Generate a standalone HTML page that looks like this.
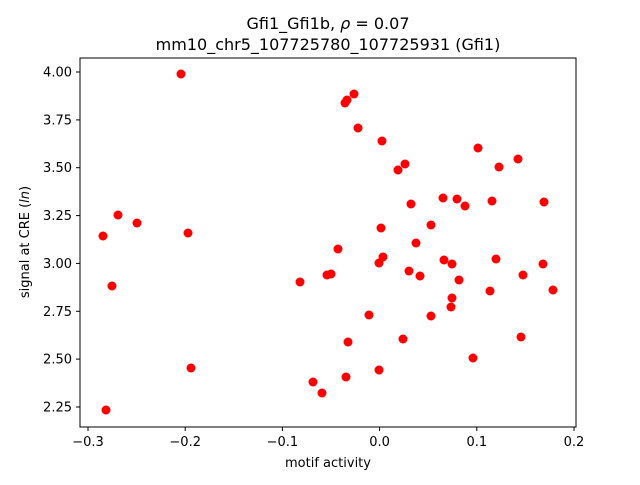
<!DOCTYPE html>
<html><head><meta charset="utf-8"><style>body{margin:0;background:#fff}</style></head><body>
<svg width="640" height="480" xmlns="http://www.w3.org/2000/svg" font-family="'DejaVu Sans', 'Liberation Sans', sans-serif">
<rect width="640" height="480" fill="#fff"/>
<text x="328" y="29" font-size="16" text-anchor="middle">Gfi1_Gfi1b, <tspan font-style="italic">ρ</tspan> = 0.07</text>
<text x="328" y="50" font-size="16" text-anchor="middle">mm10_chr5_107725780_107725931 (Gfi1)</text>
<g fill="#ff0000">
<circle cx="181" cy="74" r="4.5"/><circle cx="354" cy="94" r="4.5"/><circle cx="347" cy="100" r="4.5"/><circle cx="345" cy="103" r="4.5"/><circle cx="358" cy="128" r="4.5"/><circle cx="382" cy="141" r="4.5"/><circle cx="405" cy="164" r="4.5"/><circle cx="398" cy="170" r="4.5"/><circle cx="478" cy="148" r="4.5"/><circle cx="518" cy="159" r="4.5"/><circle cx="499" cy="167" r="4.5"/><circle cx="103" cy="236" r="4.5"/><circle cx="118" cy="215" r="4.5"/><circle cx="137" cy="223" r="4.5"/><circle cx="188" cy="233" r="4.5"/><circle cx="112" cy="286" r="4.5"/><circle cx="191" cy="368" r="4.5"/><circle cx="106" cy="410" r="4.5"/><circle cx="300" cy="282" r="4.5"/><circle cx="338" cy="249" r="4.5"/><circle cx="381" cy="228" r="4.5"/><circle cx="411" cy="204" r="4.5"/><circle cx="443" cy="198" r="4.5"/><circle cx="431" cy="225" r="4.5"/><circle cx="416" cy="243" r="4.5"/><circle cx="465" cy="206" r="4.5"/><circle cx="492" cy="201" r="4.5"/><circle cx="457" cy="199" r="4.5"/><circle cx="544" cy="202" r="4.5"/><circle cx="379" cy="263" r="4.5"/><circle cx="383" cy="257" r="4.5"/><circle cx="409" cy="271" r="4.5"/><circle cx="420" cy="276" r="4.5"/><circle cx="331" cy="274" r="4.5"/><circle cx="327" cy="275" r="4.5"/><circle cx="444" cy="260" r="4.5"/><circle cx="452" cy="264" r="4.5"/><circle cx="496" cy="259" r="4.5"/><circle cx="543" cy="264" r="4.5"/><circle cx="523" cy="275" r="4.5"/><circle cx="459" cy="280" r="4.5"/><circle cx="553" cy="290" r="4.5"/><circle cx="490" cy="291" r="4.5"/><circle cx="452" cy="298" r="4.5"/><circle cx="451" cy="307" r="4.5"/><circle cx="431" cy="316" r="4.5"/><circle cx="369" cy="315" r="4.5"/><circle cx="348" cy="342" r="4.5"/><circle cx="403" cy="339" r="4.5"/><circle cx="521" cy="337" r="4.5"/><circle cx="473" cy="358" r="4.5"/><circle cx="313" cy="382" r="4.5"/><circle cx="346" cy="377" r="4.5"/><circle cx="322" cy="393" r="4.5"/><circle cx="379" cy="370" r="4.5"/>
</g>
<rect x="80" y="58" width="496" height="369" fill="none" stroke="#000" stroke-width="1"/>
<g stroke="#000" stroke-width="1">
<line x1="88" y1="427" x2="88" y2="431"/><line x1="185.2" y1="427" x2="185.2" y2="431"/><line x1="282.4" y1="427" x2="282.4" y2="431"/><line x1="379.6" y1="427" x2="379.6" y2="431"/><line x1="476.8" y1="427" x2="476.8" y2="431"/><line x1="574" y1="427" x2="574" y2="431"/>
<line x1="76" y1="72" x2="80" y2="72"/><line x1="76" y1="119.9" x2="80" y2="119.9"/><line x1="76" y1="167.7" x2="80" y2="167.7"/><line x1="76" y1="215.6" x2="80" y2="215.6"/><line x1="76" y1="263.4" x2="80" y2="263.4"/><line x1="76" y1="311.3" x2="80" y2="311.3"/><line x1="76" y1="359.1" x2="80" y2="359.1"/><line x1="76" y1="407" x2="80" y2="407"/>
</g>
<g font-size="13" text-anchor="middle">
<text x="88" y="446">−0.3</text><text x="185.2" y="446">−0.2</text><text x="282.4" y="446">−0.1</text><text x="379.6" y="446">0.0</text><text x="476.8" y="446">0.1</text><text x="574" y="446">0.2</text>
</g>
<g font-size="13" text-anchor="end">
<text x="72" y="76.5">4.00</text><text x="72" y="124.4">3.75</text><text x="72" y="172.2">3.50</text><text x="72" y="220.1">3.25</text><text x="72" y="267.9">3.00</text><text x="72" y="315.8">2.75</text><text x="72" y="363.6">2.50</text><text x="72" y="411.5">2.25</text>
</g>
<text x="328" y="467" font-size="13" text-anchor="middle">motif activity</text>
<text transform="translate(29,242) rotate(-90)" font-size="13" text-anchor="middle">signal at CRE (<tspan font-style="italic">ln</tspan>)</text>
</svg>
</body></html>
